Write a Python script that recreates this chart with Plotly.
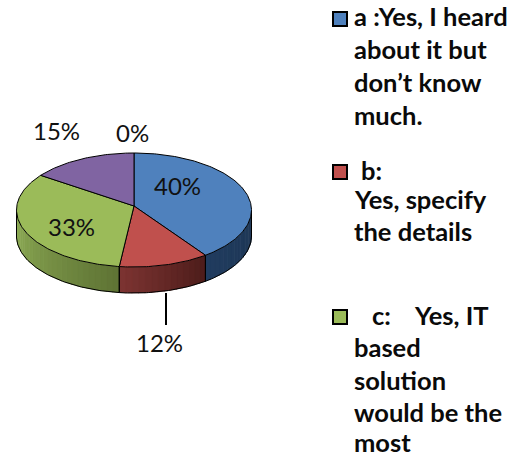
import math
import plotly.graph_objects as go

categories = ["a", "b", "c", "d", "e"]
values = [39.6, 12.4, 33.4, 14.6, 0]
pct_labels = ["40%", "12%", "33%", "15%", "0%"]
colors = ["#4f81bd", "#c0504d", "#9bbb59", "#8064a2", "#f79646"]
side_left = {"a": (32, 60, 95), "b": (125, 52, 50), "c": (145, 176, 88)}
side_right = {"a": (30, 54, 84), "b": (76, 28, 26), "c": (94, 115, 52)}

W, H = 519, 457
CX, CY, APEX_Y, RX, RY, DEPTH = 134, 210, 206, 117.5, 57, 26
FONT = "Lato"


def pt(deg, dy=0):
    a = math.radians(deg)
    return CX + RX * math.sin(a), CY - RY * math.cos(a) + dy


def arc(a0, a1, dy=0):
    n = max(2, int(abs(a1 - a0)) + 1)
    return [pt(a0 + (a1 - a0) * i / (n - 1), dy) for i in range(n)]


fig = go.Figure()


def poly(points, fill, line="black", width=1.0):
    xs, ys = zip(*points)
    fig.add_trace(go.Scatter(
        x=list(xs) + [xs[0]], y=list(ys) + [ys[0]], mode="lines", fill="toself",
        fillcolor=fill, line=dict(color=line if width else fill, width=width or 0.5),
        hoverinfo="skip", showlegend=False))


# slice angular extents
total = sum(values)
extents = []
start = 0.0
for v in values:
    end = start + v / total * 360
    extents.append((start, end))
    start = end

# side wall: gradient strips for the front half
for cat, (a0, a1) in zip(categories, extents):
    lo, hi = max(a0, 90), min(a1, 270)
    if hi <= lo or cat not in side_left:
        continue
    n = max(1, int((hi - lo) / 3))
    for i in range(n):
        s0 = lo + (hi - lo) * i / n
        s1 = lo + (hi - lo) * (i + 1) / n + 0.4
        t = (i + 0.5) / n  # 0 = screen right, 1 = screen left
        c = [round(r + (l - r) * t) for l, r in zip(side_left[cat], side_right[cat])]
        poly(arc(s0, s1) + arc(s1, s0, DEPTH), f"rgb({c[0]},{c[1]},{c[2]})", width=0)

# side wall outlines
for (a0, a1), cat in zip(extents, categories):
    lo, hi = max(a0, 90), min(a1, 270)
    if hi > lo:
        xs, ys = zip(*arc(lo, hi, DEPTH))
        fig.add_trace(go.Scatter(x=xs, y=ys, mode="lines", line=dict(color="black", width=1),
                                 hoverinfo="skip", showlegend=False))
        for ang in (lo, hi):
            x0, y0 = pt(ang)
            x1, y1 = pt(ang, DEPTH)
            fig.add_trace(go.Scatter(x=[x0, x1], y=[y0, y1], mode="lines",
                                     line=dict(color="black", width=1),
                                     hoverinfo="skip", showlegend=False))

# top surfaces
for (a0, a1), col in zip(extents, colors):
    if a1 > a0:
        poly([(CX, APEX_Y)] + arc(a0, a1), col)

# leader line for the 12% label
fig.add_trace(go.Scatter(x=[166, 166], y=[293, 325], mode="lines",
                         line=dict(color="black", width=2),
                         hoverinfo="skip", showlegend=False))

# percentage labels
label_pos = [(177, 185), (159, 342), (71, 226), (56, 130), (132, 132)]
ann = [dict(x=x, y=y, text=t, showarrow=False, xanchor="center", yanchor="middle",
            font=dict(family=FONT, size=24, color="#111111"))
       for t, (x, y) in zip(pct_labels, label_pos)]

# legend
legend_lines = [
    ("a :Yes, I heard", 16), ("about it but", 49), ("don\u2019t know", 82), ("much.", 115),
    ("b:", 170), ("Yes, specify", 199), ("the details", 231),
    ("c:", 315), ("Yes, IT", 315), ("based", 347), ("solution", 380),
    ("would be the", 412), ("most", 442),
]
line_x = {"b:": 359, "c:": 370, "Yes, IT": 412}
for t, y in legend_lines:
    ann.append(dict(x=line_x.get(t, 352), y=y, text=t, showarrow=False, xanchor="left",
                    yanchor="middle", font=dict(family=FONT, size=25.5, color="#0a0a0a", weight="bold")))

legend_marks = [("#4f81bd", 19), ("#c0504d", 172), ("#9bbb59", 317)]
for col, y in legend_marks:
    fig.add_trace(go.Scatter(x=[340], y=[y], mode="markers",
                             marker=dict(symbol="square", size=14, color=col,
                                         line=dict(color="black", width=2)),
                             hoverinfo="skip", showlegend=False))

fig.update_layout(
    width=W, height=H, margin=dict(l=0, r=0, t=0, b=0), paper_bgcolor="white",
    plot_bgcolor="white", showlegend=False, annotations=ann,
    xaxis=dict(range=[0, W], visible=False, fixedrange=True),
    yaxis=dict(range=[H, 0], visible=False, fixedrange=True),
)
fig.write_html("out.html", config=dict(displayModeBar=False),
               post_script="document.body.style.margin='0';document.body.style.overflow='hidden';")
